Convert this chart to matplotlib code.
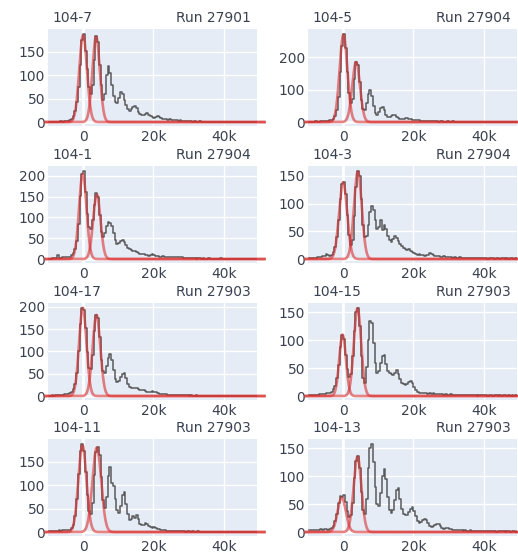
import numpy as np
import matplotlib
matplotlib.use("Agg")
import matplotlib.pyplot as plt
from matplotlib.ticker import FuncFormatter, MultipleLocator

# ---------------- data ----------------
channels = ["104-7", "104-5", "104-1", "104-3", "104-17", "104-15", "104-11", "104-13"]
runs = ["Run 27901", "Run 27904", "Run 27904", "Run 27904",
        "Run 27903", "Run 27903", "Run 27903", "Run 27903"]

bin_start = -10000
bin_width = 500

counts_104_7 = [
    0, 1, 0, 1, 1, 0, 1, 2, 1, 2,
    2, 3, 4, 6, 12, 24, 42, 75, 122, 175,
    188, 152, 112, 75, 60, 78, 132, 184, 170, 122,
    80, 48, 60, 100, 120, 105, 80, 55, 42, 40,
    52, 63, 60, 48, 36, 28, 24, 27, 32, 35,
    30, 22, 17, 14, 15, 17, 19, 16, 12, 10,
    9, 10, 12, 10, 8, 6, 7, 6, 5, 6,
    5, 4, 5, 4, 3, 4, 3, 2, 3, 2,
    2, 2, 1, 2, 1, 1, 2, 1, 0, 1,
    1, 1, 0, 1, 1, 0, 1, 0, 1, 1,
    0, 1, 0, 0, 1, 0, 1, 0, 0, 1,
    0, 0, 1, 0, 0, 1, 0, 0, 0, 1]
counts_104_5 = [
    0, 1, 1, 0, 2, 1, 1, 2, 2, 3,
    3, 4, 5, 7, 10, 18, 36, 78, 155, 235,
    272, 228, 155, 90, 58, 72, 132, 185, 175, 122,
    68, 40, 36, 58, 88, 98, 80, 48, 28, 22,
    30, 42, 45, 36, 22, 15, 14, 18, 22, 21,
    16, 11, 9, 8, 10, 12, 12, 10, 8, 6,
    5, 5, 6, 6, 4, 3, 4, 3, 3, 2,
    2, 3, 2, 2, 1, 2, 2, 1, 1, 2,
    1, 1, 2, 1, 1, 0, 1, 1, 0, 1,
    1, 0, 1, 1, 0, 1, 0, 1, 0, 0,
    1, 0, 1, 0, 0, 1, 0, 0, 1, 0,
    0, 1, 0, 0, 0, 1, 0, 0, 1, 0]
counts_104_1 = [
    1, 1, 2, 2, 3, 9, 3, 3, 4, 4,
    5, 5, 6, 9, 14, 24, 44, 85, 152, 205,
    212, 162, 108, 78, 72, 95, 130, 158, 150, 105,
    65, 52, 62, 80, 88, 86, 80, 62, 45, 37,
    38, 44, 46, 42, 34, 27, 24, 22, 20, 20,
    18, 15, 13, 12, 11, 10, 9, 8, 9, 11,
    10, 8, 7, 6, 6, 7, 6, 5, 6, 5,
    5, 4, 4, 4, 5, 5, 4, 3, 3, 3,
    2, 3, 2, 2, 1, 2, 2, 1, 2, 1,
    1, 2, 1, 1, 1, 0, 1, 1, 2, 1,
    1, 0, 1, 1, 0, 1, 1, 0, 1, 0,
    1, 0, 0, 1, 0, 1, 0, 0, 1, 0]
counts_104_3 = [
    1, 2, 1, 2, 2, 3, 3, 4, 5, 6,
    9, 7, 5, 7, 12, 22, 40, 70, 108, 135,
    139, 118, 80, 44, 26, 34, 78, 130, 159, 150,
    108, 62, 40, 42, 62, 85, 95, 88, 70, 55,
    58, 70, 52, 62, 55, 42, 34, 30, 36, 41,
    38, 32, 27, 23, 20, 18, 17, 18, 15, 12,
    10, 9, 8, 9, 8, 7, 6, 7, 8, 10,
    9, 7, 6, 5, 5, 4, 4, 5, 4, 3,
    3, 3, 2, 3, 2, 2, 3, 2, 2, 1,
    2, 2, 1, 2, 1, 1, 2, 1, 1, 2,
    1, 1, 0, 1, 2, 1, 0, 1, 1, 0,
    1, 1, 0, 1, 0, 1, 1, 0, 1, 0]
counts_104_17 = [
    1, 1, 2, 1, 2, 2, 3, 3, 3, 4,
    4, 5, 6, 9, 15, 28, 52, 100, 162, 198,
    194, 152, 98, 64, 60, 92, 146, 183, 175, 132,
    82, 56, 52, 68, 85, 95, 82, 58, 38, 31,
    33, 42, 50, 52, 40, 27, 20, 19, 17, 19,
    19, 16, 14, 13, 14, 12, 10, 9, 10, 11,
    10, 8, 6, 5, 5, 4, 4, 4, 3, 3,
    3, 3, 2, 3, 2, 2, 3, 2, 2, 2,
    1, 2, 1, 1, 2, 1, 1, 1, 0, 1,
    1, 1, 0, 1, 1, 1, 0, 1, 0, 1,
    1, 0, 1, 0, 1, 1, 0, 0, 1, 0,
    1, 0, 0, 1, 0, 1, 0, 1, 0, 1]
counts_104_15 = [
    1, 1, 1, 2, 2, 2, 3, 3, 3, 4,
    5, 5, 6, 8, 12, 18, 32, 56, 88, 110,
    102, 74, 48, 34, 40, 72, 116, 150, 158, 126,
    72, 32, 24, 52, 100, 135, 130, 95, 60, 42,
    45, 60, 72, 73, 58, 45, 42, 40, 38, 42,
    46, 40, 30, 24, 21, 20, 22, 26, 27, 24,
    16, 10, 7, 6, 5, 6, 6, 5, 4, 5,
    4, 5, 4, 3, 4, 3, 3, 2, 3, 2,
    2, 3, 2, 2, 1, 2, 2, 1, 2, 1,
    2, 1, 1, 2, 1, 1, 0, 1, 2, 1,
    1, 1, 0, 1, 1, 0, 2, 1, 0, 1,
    0, 1, 1, 0, 1, 0, 1, 0, 1, 0]
counts_104_11 = [
    2, 3, 2, 3, 3, 3, 4, 3, 4, 4,
    5, 4, 5, 8, 16, 34, 70, 124, 172, 188,
    172, 128, 78, 44, 38, 62, 122, 170, 182, 165,
    118, 68, 52, 75, 120, 138, 105, 98, 70, 48,
    40, 55, 78, 85, 60, 38, 26, 28, 34, 30,
    36, 28, 18, 15, 16, 19, 18, 12, 10, 9,
    10, 8, 6, 6, 5, 4, 4, 3, 3, 3,
    3, 2, 3, 2, 2, 3, 2, 2, 1, 2,
    2, 1, 2, 1, 1, 2, 1, 1, 1, 0,
    1, 1, 1, 0, 1, 1, 0, 1, 1, 0,
    1, 0, 1, 1, 0, 1, 0, 1, 0, 1,
    0, 1, 0, 1, 1, 0, 0, 1, 0, 1]
counts_104_13 = [
    3, 3, 4, 3, 4, 3, 4, 5, 4, 5,
    5, 4, 5, 7, 11, 19, 33, 52, 64, 62,
    66, 54, 38, 27, 30, 52, 96, 128, 137, 114,
    72, 40, 32, 60, 115, 150, 158, 125, 80, 50,
    46, 70, 100, 113, 95, 62, 40, 34, 40, 58,
    75, 78, 60, 42, 32, 30, 30, 36, 42, 45,
    38, 28, 20, 17, 18, 22, 24, 22, 16, 11,
    9, 10, 12, 15, 14, 10, 7, 6, 7, 8,
    6, 5, 4, 4, 3, 4, 3, 3, 2, 3,
    2, 2, 3, 2, 2, 1, 2, 2, 1, 2,
    1, 2, 1, 1, 2, 1, 1, 0, 1, 2,
    1, 1, 0, 1, 1, 0, 1, 1, 0, 1]

counts = [counts_104_7, counts_104_5, counts_104_1, counts_104_3,
          counts_104_17, counts_104_15, counts_104_11, counts_104_13]

# Gaussian fit parameters: (amplitude, mean, sigma) for pedestal and 1-PE peak
fit_pedestal = [(185, 0, 1100), (270, 100, 1100), (205, -100, 1050), (138, 0, 1150),
                (198, -100, 1050), (110, -150, 950), (185, -200, 1150), (62, -400, 1150)]
fit_1pe = [(182, 3700, 1050), (185, 3700, 1100), (155, 3900, 1050), (158, 4200, 1100),
           (182, 3800, 1100), (157, 4100, 1050), (180, 3900, 1250), (135, 4100, 1100)]
fit_domain = (-11000, 52000)

x_ticks = [0, 20000, 40000]
x_range = (-10000, 49500)

# ---------------- style ----------------
BG = "#E5ECF6"
TXT = "#3a4250"
GRAY = "#404040"
RED = "#d93030"

W, H = 518, 555
fig = plt.figure(figsize=(W / 100, H / 100), dpi=100)
fig.patch.set_facecolor("white")

col_left = [48, 308]
ax_w = 209
row_top = [29, 166, 303, 439]
ax_h = 97

fmt = FuncFormatter(lambda v, p: "0" if v == 0 else f"{int(round(v / 1000))}k")

for k in range(8):
    r, c = divmod(k, 2)
    left = col_left[c] / W
    bottom = 1 - (row_top[r] + ax_h) / H
    ax = fig.add_axes([left, bottom, ax_w / W, ax_h / H])
    ax.set_facecolor(BG)
    for s in ax.spines.values():
        s.set_visible(False)

    y = np.array(counts[k], dtype=float)
    xc = bin_start + bin_width * (np.arange(len(y)) + 0.5)
    m = y.max()
    ax.set_xlim(*x_range)
    ax.set_ylim(-0.045 * m, 1.055 * m)

    step = 100 if 1.055 * m > 250 else 50
    ax.yaxis.set_major_locator(MultipleLocator(step))
    ax.set_xticks(x_ticks)
    ax.xaxis.set_major_formatter(fmt)
    ax.grid(True, color="white", linewidth=1.0)
    ax.set_axisbelow(True)
    ax.axvline(0, color="white", linewidth=2.0, zorder=0.5)
    ax.axhline(0, color="white", linewidth=2.0, zorder=0.5)
    ax.tick_params(length=0, labelsize=10, labelcolor=TXT)
    ax.tick_params(axis="x", pad=3)
    ax.tick_params(axis="y", pad=2)

    ax.plot(xc, y, drawstyle="steps-mid", color=GRAY, lw=1.1, alpha=0.85, zorder=3)

    xf = np.linspace(fit_domain[0], fit_domain[1], 1200)
    for (a, mu, sg) in (fit_pedestal[k], fit_1pe[k]):
        yf = a * np.exp(-0.5 * ((xf - mu) / sg) ** 2)
        ax.plot(xf, yf, color=RED, lw=1.9, alpha=0.6, zorder=4, clip_on=False,
                solid_capstyle="butt")

    ax.text(0.02, 1.113, channels[k], transform=ax.transAxes, ha="left",
            va="center", fontsize=10, color=TXT)
    ax.text(0.972, 1.113, runs[k], transform=ax.transAxes, ha="right",
            va="center", fontsize=10, color=TXT)

fig.savefig("out.png", dpi=100, facecolor="white")
